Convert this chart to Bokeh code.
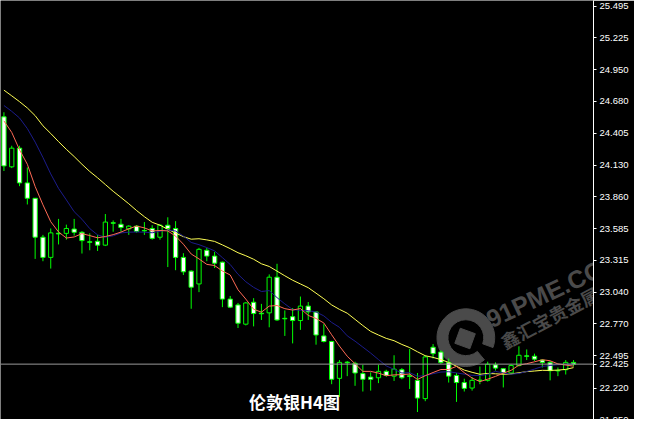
import math
from bokeh.plotting import figure
from bokeh.models import ColumnDataSource, Range1d, FixedTicker, PrintfTickFormatter, Span, Label
from bokeh.core.properties import value
from bokeh.embed import file_html
from bokeh.resources import INLINE

# ---- data ----
opens = [24.547, 24.118, 24.278, 23.980, 23.848, 23.514, 23.341, 23.548, 23.547, 23.584,
         23.556, 23.475, 23.479, 23.446, 23.638, 23.625, 23.586, 23.609, 23.572, 23.589,
         23.514, 23.617, 23.589, 23.341, 23.223, 23.113, 23.402, 23.352, 23.300, 22.983,
         22.933, 22.768, 22.956, 22.862, 22.865, 23.171, 22.818, 22.832, 22.799, 22.923,
         22.873, 22.667, 22.619, 22.303, 22.442, 22.432, 22.344, 22.314, 22.308, 22.363,
         22.322, 22.377, 22.325, 22.286, 22.129, 22.570, 22.529, 22.438, 22.328, 22.267,
         22.220, 22.288, 22.286, 22.419, 22.386, 22.349, 22.413, 22.496, 22.493, 22.460,
         22.440, 22.371, 22.377, 22.440]
highs = [24.586, 24.299, 24.299, 24.113, 23.850, 23.534, 23.589, 23.671, 23.622, 23.671,
         23.567, 23.547, 23.534, 23.713, 23.658, 23.671, 23.617, 23.617, 23.644, 23.617,
         23.625, 23.685, 23.652, 23.377, 23.230, 23.423, 23.423, 23.388, 23.305, 23.010,
         22.950, 22.956, 22.991, 22.942, 23.195, 23.286, 22.886, 22.906, 23.005, 22.958,
         22.878, 22.768, 22.625, 22.460, 22.452, 22.446, 22.419, 22.355, 22.419, 22.377,
         22.501, 22.391, 22.556, 22.349, 22.501, 22.597, 22.543, 22.473, 22.349, 22.300,
         22.314, 22.405, 22.446, 22.440, 22.391, 22.424, 22.578, 22.551, 22.515, 22.468,
         22.452, 22.396, 22.460, 22.460]
lows = [24.082, 24.107, 23.952, 23.795, 23.328, 23.308, 23.245, 23.452, 23.493, 23.528,
        23.374, 23.402, 23.396, 23.438, 23.561, 23.561, 23.534, 23.553, 23.534, 23.493,
        23.493, 23.258, 23.231, 23.190, 22.900, 23.043, 23.308, 23.250, 22.914, 22.906,
        22.735, 22.757, 22.749, 22.804, 22.741, 22.795, 22.667, 22.603, 22.719, 22.804,
        22.592, 22.611, 22.253, 22.143, 22.322, 22.239, 22.190, 22.198, 22.262, 22.316,
        22.281, 22.295, 22.212, 22.014, 22.107, 22.473, 22.427, 22.267, 22.101, 22.190,
        22.198, 22.253, 22.275, 22.369, 22.225, 22.336, 22.405, 22.460, 22.452, 22.396,
        22.286, 22.322, 22.336, 22.405]
closes = [24.126, 24.278, 23.980, 23.848, 23.514, 23.341, 23.551, 23.542, 23.589, 23.556,
          23.485, 23.470, 23.446, 23.644, 23.634, 23.597, 23.609, 23.564, 23.568, 23.504,
          23.617, 23.589, 23.341, 23.217, 23.085, 23.410, 23.352, 23.291, 22.983, 22.914,
          22.776, 22.950, 22.859, 22.857, 23.171, 22.804, 22.814, 22.799, 22.923, 22.873,
          22.675, 22.619, 22.295, 22.440, 22.437, 22.349, 22.295, 22.295, 22.363, 22.328,
          22.382, 22.308, 22.320, 22.134, 22.487, 22.515, 22.438, 22.322, 22.267, 22.217,
          22.286, 22.284, 22.424, 22.391, 22.349, 22.413, 22.501, 22.492, 22.468, 22.440,
          22.369, 22.367, 22.440, 22.425]
ma_red = [24.512, 24.413, 24.264, 24.140, 23.949, 23.792, 23.647, 23.559, 23.507, 23.516,
          23.545, 23.528, 23.509, 23.520, 23.536, 23.558, 23.586, 23.610, 23.594, 23.568,
          23.572, 23.568, 23.524, 23.454, 23.370, 23.328, 23.281, 23.271, 23.224, 23.190,
          23.063, 22.983, 22.896, 22.871, 22.923, 22.928, 22.901, 22.889, 22.902, 22.843,
          22.817, 22.778, 22.677, 22.580, 22.493, 22.428, 22.363, 22.363, 22.348, 22.326,
          22.333, 22.335, 22.340, 22.294, 22.326, 22.353, 22.379, 22.379, 22.406, 22.352,
          22.306, 22.275, 22.296, 22.320, 22.347, 22.372, 22.416, 22.429, 22.445, 22.463,
          22.454, 22.427, 22.417, 22.408]
ma_blue = [24.644, 24.594, 24.537, 24.446, 24.330, 24.198, 24.057, 23.933, 23.834, 23.733,
           23.668, 23.588, 23.534, 23.514, 23.526, 23.551, 23.557, 23.559, 23.557, 23.552,
           23.565, 23.577, 23.567, 23.524, 23.469, 23.450, 23.425, 23.397, 23.339, 23.280,
           23.196, 23.132, 23.084, 23.048, 23.056, 22.996, 22.942, 22.893, 22.887, 22.883,
           22.873, 22.839, 22.783, 22.741, 22.668, 22.622, 22.571, 22.520, 22.464, 22.410,
           22.380, 22.349, 22.352, 22.321, 22.326, 22.343, 22.357, 22.360, 22.350, 22.339,
           22.329, 22.327, 22.337, 22.363, 22.349, 22.339, 22.345, 22.362, 22.383, 22.405,
           22.413, 22.421, 22.423, 22.426]
ma_yellow = [24.776, 24.727, 24.677, 24.623, 24.557, 24.470, 24.404, 24.334, 24.268, 24.206,
             24.140, 24.078, 24.024, 23.966, 23.908, 23.855, 23.801, 23.743, 23.690, 23.642,
             23.617, 23.582, 23.550, 23.519, 23.497, 23.501, 23.491, 23.478, 23.448, 23.416,
             23.381, 23.355, 23.325, 23.286, 23.263, 23.223, 23.183, 23.145, 23.113, 23.081,
             23.034, 22.986, 22.933, 22.895, 22.862, 22.809, 22.756, 22.706, 22.675, 22.646,
             22.626, 22.594, 22.567, 22.531, 22.497, 22.483, 22.464, 22.440, 22.407, 22.374,
             22.355, 22.338, 22.345, 22.342, 22.338, 22.341, 22.351, 22.361, 22.366, 22.372,
             22.371, 22.374, 22.380, 22.395]
price_ticks = [25.495, 25.225, 24.950, 24.680, 24.405, 24.130, 23.860, 23.585,
               23.315, 23.040, 22.770, 22.495, 22.220, 21.950]
last_price = 22.425
title_text = "伦敦银H4图"
wm_site = "91PME.COM"
wm_name = "鑫汇宝贵金属"

n = len(closes)
idx = list(range(n))
src = ColumnDataSource(dict(
    idx=idx, open=opens, high=highs, low=lows, close=closes,
    top=[max(o, c) for o, c in zip(opens, closes)],
    bottom=[min(o, c) for o, c in zip(opens, closes)],
    fill=["black" if c > o else "white" for o, c in zip(opens, closes)],
))

W, H, AXW = 634, 419, 41
p = figure(width=W, height=H, x_range=Range1d(-0.44, 75.56), y_range=Range1d(21.950, 25.545),
           output_backend="svg", toolbar_location=None, x_axis_location=None,
           y_axis_location="right", background_fill_color="black", border_fill_color="black",
           outline_line_color=None, min_border_left=0, min_border_right=AXW,
           min_border_top=0, min_border_bottom=0)
p.xgrid.visible = False
p.ygrid.visible = False

ax = p.yaxis[0]
ax.ticker = FixedTicker(ticks=price_ticks + [last_price])
ax.formatter = PrintfTickFormatter(format="%.3f")
ax.axis_line_color = "white"
ax.major_tick_line_color = "white"
ax.major_tick_out = 3
ax.major_tick_in = 0
ax.minor_tick_line_color = None
ax.major_label_text_color = "white"
ax.major_label_text_font = "Liberation Sans"
ax.major_label_text_font_size = "9.5px"
ax.major_label_standoff = 3

# watermark (decoration)
wm_col = "#4a4a4a"
p.annular_wedge(x=[59.2], y=[22.652], inner_radius=2.3, outer_radius=3.7,
                start_angle=math.radians(-20), end_angle=math.radians(310),
                direction="anticlock", color=wm_col)
p.rect(x=[59.1], y=[22.645], width=16, height=16, width_units="screen", height_units="screen",
       angle=math.radians(-20), color=wm_col)
p.text(x=[62.0], y=[22.80], text=[wm_site], angle=math.radians(25),
       text_font=value("Liberation Sans"), text_font_style="bold", text_font_size="25px",
       text_color=wm_col, text_baseline="alphabetic")
p.text(x=[63.8], y=[22.61], text=[wm_name], angle=math.radians(28),
       text_font=value("Noto Sans CJK SC"), text_font_style="bold", text_font_size="18px",
       text_color=wm_col, text_baseline="alphabetic")

p.add_layout(Span(location=last_price, dimension="width", line_color="#9a9a9a", line_width=1))

# candles
p.segment(x0="idx", y0="low", x1="idx", y1="high", source=src, line_color="#00ff00", line_width=1)
p.vbar(x="idx", width=0.55, top="top", bottom="bottom", source=src,
       fill_color="fill", line_color="#00ff00", line_width=1)

# moving averages
p.line(idx, ma_yellow, line_color="#ffff55", line_width=1)
p.line(idx, ma_blue, line_color="#1c1c8c", line_width=1)
p.line(idx, ma_red, line_color="#ff6a55", line_width=1)

p.add_layout(Label(x=294, y=18, x_units="screen", y_units="screen", text=title_text,
                   text_align="center", text_baseline="middle", text_color="white",
                   text_font="Noto Sans CJK SC", text_font_style="bold", text_font_size="17px"))

open("out.html", "w").write(file_html(p, INLINE))
